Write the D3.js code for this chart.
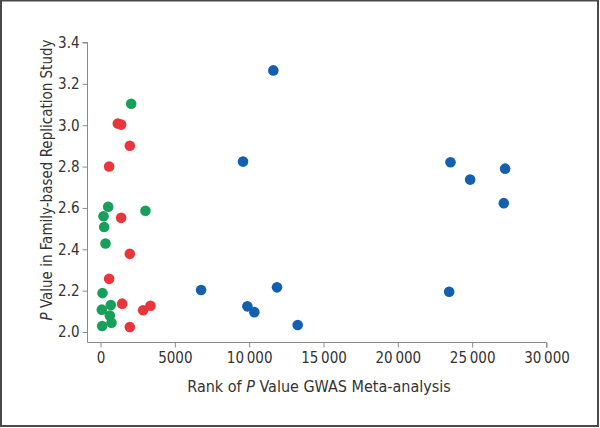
<!DOCTYPE html>
<html>
<head>
<meta charset="utf-8">
<script src="https://cdn.jsdelivr.net/npm/d3@7"></script>
<style>
  body { margin: 0; background: #fff; }
  svg { display: block; }
  .axis text { font-family: "DejaVu Sans Condensed", "DejaVu Sans", sans-serif; font-stretch: condensed; font-size: 15px; fill: #333; }
  .axis path, .axis line { stroke: #8a8a8a; }
  .title { font-family: "DejaVu Sans Condensed", "DejaVu Sans", sans-serif; font-stretch: condensed; fill: #333; }
</style>
</head>
<body>
<div id="chart"></div>
<script>
// x = rank of P value in GWAS meta-analysis, y = P value in family-based replication study
const greenX = [2063, 517, 3024, 202, 246, 336, 134, 90, 694, 627, 739, 112];
const greenY = [3.104, 2.606, 2.586, 2.560, 2.508, 2.428, 2.188, 2.108, 2.130, 2.080, 2.045, 2.029];

const redX = [1165, 1389, 1971, 582, 1389, 1971, 582, 1456, 2867, 3360, 1971];
const redY = [3.008, 3.003, 2.901, 2.800, 2.552, 2.378, 2.257, 2.137, 2.105, 2.127, 2.024];

const blueX = [11626, 9587, 23543, 24864, 27216, 27127, 6765, 11872, 23453, 9878, 10349, 13264];
const blueY = [3.265, 2.824, 2.821, 2.737, 2.790, 2.623, 2.203, 2.216, 2.195, 2.124, 2.096, 2.034];

const xTicks = [0, 5000, 10000, 15000, 20000, 25000, 30000];
const yTicks = [2.0, 2.2, 2.4, 2.6, 2.8, 3.0, 3.2, 3.4];

const series = [
    { xs: redX, ys: redY, color: "#e8363c" },
    { xs: greenX, ys: greenY, color: "#17a05a" },
    { xs: blueX, ys: blueY, color: "#1460b0" }
];

const W = 600, H = 428;
const svg = d3.select("#chart").append("svg")
    .attr("width", W)
    .attr("height", H);

// frame round the figure
svg.append("rect")
    .attr("x", 1).attr("y", 0.5)
    .attr("width", W - 3).attr("height", H - 2.5)
    .attr("fill", "none")
    .attr("stroke", "#4a4a4a")
    .attr("stroke-width", 2);

const xScale = d3.scaleLinear().domain([0, 30000]).range([100.5, 546.5]);
const yScale = d3.scaleLinear().domain([2.0, 3.4]).range([332, 42.5]);

const fmtX = d => d < 10000 ? String(d) : d3.format(",")(d).replace(",", "\u2009");

const xAxis = d3.axisBottom(xScale).tickValues(xTicks).tickFormat(fmtX)
    .tickSize(5).tickSizeOuter(0).tickPadding(5);
const yAxis = d3.axisLeft(yScale).tickValues(yTicks).tickFormat(d3.format(".1f"))
    .tickSize(5).tickSizeOuter(0).tickPadding(3);

const xg = svg.append("g")
    .attr("class", "axis")
    .attr("transform", "translate(0,342.5)")
    .call(xAxis);
// extend the x-axis line to meet the y axis
xg.select(".domain").attr("d", `M87.5,0H${xScale(30000)}V5`);

const yg = svg.append("g")
    .attr("class", "axis")
    .attr("transform", "translate(87.5,0)")
    .call(yAxis);
yg.select(".domain").attr("d", `M-5,${yScale(3.4)}H0V342.5`);

// points
series.forEach(s => {
    svg.append("g")
        .selectAll("circle")
        .data(s.xs.map((x, i) => [x, s.ys[i]]))
        .join("circle")
        .attr("cx", d => xScale(d[0]))
        .attr("cy", d => yScale(d[1]))
        .attr("r", 5.3)
        .attr("fill", s.color);
});

// axis titles
const xt = svg.append("text")
    .attr("class", "title")
    .attr("font-size", 16)
    .attr("x", 319)
    .attr("y", 392)
    .attr("text-anchor", "middle");
xt.append("tspan").text("Rank of ");
xt.append("tspan").attr("font-style", "italic").text("P");
xt.append("tspan").text(" Value GWAS Meta-analysis");

const yt = svg.append("text")
    .attr("class", "title")
    .attr("font-size", 15)
    .attr("transform", "translate(52,180) rotate(-90)")
    .attr("text-anchor", "middle");
yt.append("tspan").attr("font-style", "italic").text("P");
yt.append("tspan").text(" Value in Family-based Replication Study");
</script>
</body>
</html>
